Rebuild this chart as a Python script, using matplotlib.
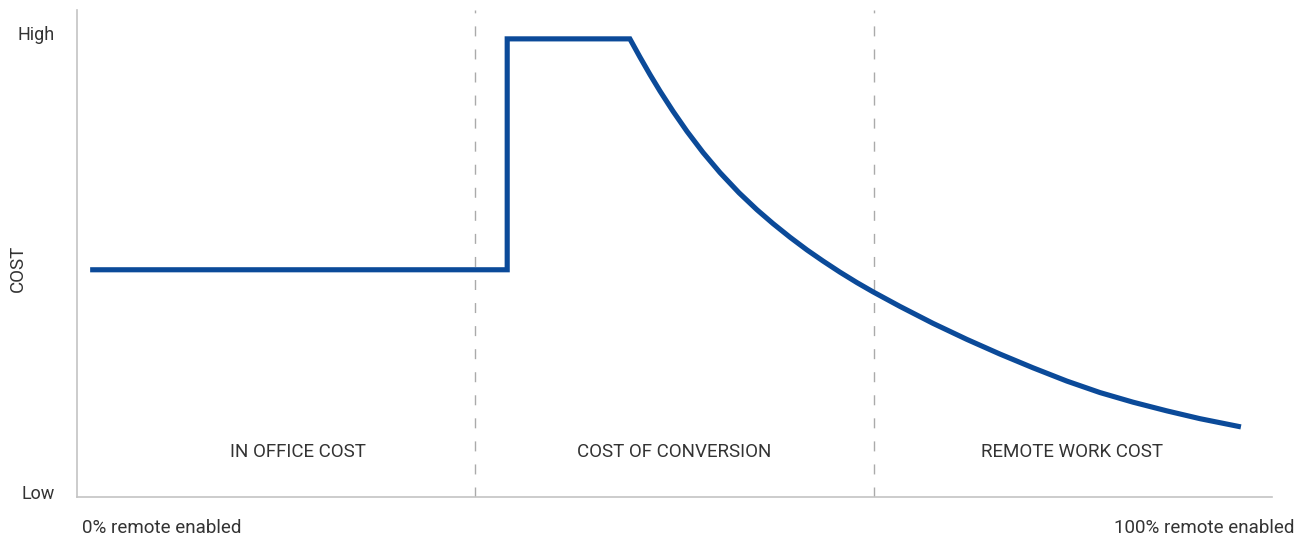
import matplotlib
matplotlib.use("Agg")
import matplotlib.pyplot as plt

plt.rcParams['font.family'] = ['Roboto', 'DejaVu Sans']

# Data (x: 0..3 spans the three regions, y: 0=Low .. 100=High)
flat_x = [0.033, 1.080]
flat_y = [49.6, 49.6]
step_x = [1.080, 1.080, 1.388]
step_y = [49.6, 100.0, 100.0]
curve_x = [1.388, 1.4134, 1.4385, 1.4636, 1.4963, 1.5314, 1.5716, 1.6143,
           1.662, 1.707, 1.747, 1.790, 1.833, 1.873, 1.915, 1.958, 1.998,
           2.066, 2.149, 2.234, 2.317, 2.400, 2.485, 2.568, 2.651, 2.736,
           2.819, 2.922]
curve_y = [100.0, 96.0, 92.2, 88.6, 84.2, 79.8, 75.2, 70.8,
           66.4, 62.7, 59.7, 56.7, 53.9, 51.5, 49.1, 46.8, 44.8,
           41.6, 37.9, 34.4, 31.2, 28.2, 25.3, 22.8, 20.7, 18.8,
           17.1, 15.3]
dividers = [1, 2]
region_labels = ["IN OFFICE COST", "COST OF CONVERSION", "REMOTE WORK COST"]
region_centers = [0.5536, 1.5, 2.499]
y_ticks = [1.1, 101.3]
y_tick_labels = ["Low", "High"]
x_labels = ["0% remote enabled", "100% remote enabled"]

xs = flat_x + step_x[1:] + curve_x[1:]
ys = flat_y + step_y[1:] + curve_y[1:]

fig = plt.figure(figsize=(13.01, 5.40), dpi=100)
ax = fig.add_axes([77/1301, 43/540, (1272-77)/1301, (497-10)/540])
ax.set_xlim(0, 3)
ax.set_ylim(0, 106.3)

line_color = '#0B4A99'
ax.plot(xs, ys, color=line_color, lw=3.7, solid_joinstyle='miter',
        solid_capstyle='butt')

for d in dividers:
    ax.axvline(d, color='#aaaaaa', lw=1.0, ls=(0, (7.2, 9.4)), zorder=0)

text_color = '#333333'
for lab, cx in zip(region_labels, region_centers):
    ax.text(cx, 9.8, lab, ha='center', va='center', fontsize=13.5,
            color=text_color)

for s in ['top', 'right']:
    ax.spines[s].set_visible(False)
for s in ['left', 'bottom']:
    ax.spines[s].set_color('#c4c4c4')
    ax.spines[s].set_linewidth(1.2)

ax.set_yticks(y_ticks)
ax.set_yticklabels(y_tick_labels, fontsize=13, color=text_color)
ax.tick_params(axis='y', length=0, pad=16)
ax.set_xticks([])

fig.text(18/1301, 1 - 268/540, "COST", ha='center', va='center', rotation=90,
         fontsize=13.5, color=text_color)

fig.text(82/1301, 1 - 528/540, x_labels[0], ha='left', va='center', fontsize=13.5,
         color=text_color)
fig.text(1295/1301, 1 - 528/540, x_labels[1], ha='right', va='center', fontsize=13.5,
         color=text_color)

fig.savefig("out.png", dpi=100)
